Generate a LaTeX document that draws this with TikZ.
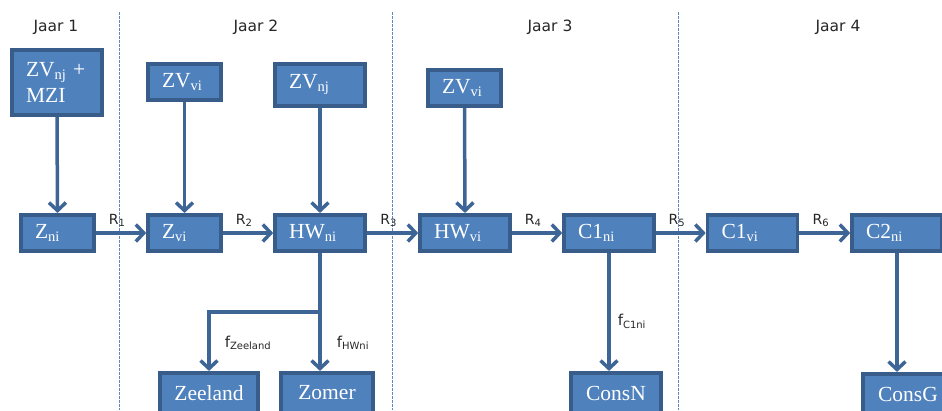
\documentclass[tikz,border=0pt]{standalone}
\usepackage{fontspec}
\setmainfont{Liberation Serif}
\newfontfamily\kopfont{DejaVu Sans}
\usetikzlibrary{arrows.meta}

\definecolor{blokvul}{HTML}{4F81BD}
\definecolor{blokrand}{HTML}{385D8A}
\definecolor{lijn}{HTML}{3D6596}
\definecolor{scheiding}{HTML}{5F88BE}

% subscripts in the boxes and in the labels
\newcommand{\idx}[1]{\raisebox{-3pt}{\fontsize{14.5}{14.5}\selectfont #1}}
\newcommand{\fidx}[1]{\raisebox{-2.5pt}{\fontsize{10}{10}\selectfont #1}}

\begin{document}
\begin{tikzpicture}[x=1pt,y=-1pt]
\tikzstyle{every node}+=[inner sep=0pt]
\tikzstyle{blok}=[draw=blokrand, fill=blokvul, line width=3.6pt, text=white, font=\fontsize{21.5}{26}\selectfont, inner xsep=14pt, minimum height=36.5pt, align=left]
\tikzstyle{pijl}=[draw=lijn, line width=3.5pt, -{Straight Barb[length=8pt,width=17pt]}]
\tikzstyle{kop}=[font=\kopfont\fontsize{15.5}{15.5}\selectfont, text=black!85]
\tikzstyle{rlabel}=[font=\kopfont\fontsize{14}{14}\selectfont, text=black!85, above=4.5pt, xshift=-4pt]
\tikzstyle{flabel}=[font=\kopfont\fontsize{15}{15}\selectfont, text=black!85]
\tikzstyle{grens}=[draw=scheiding, line width=0.9pt, dash pattern=on 2.5pt off 1.5pt]
\useasboundingbox (0,0) rectangle (942,410);
\clip (0,0) rectangle (942,410);

% years
\node[kop] (jaar1) at (56,27) {Jaar 1};
\node[kop] (jaar2) at (256,27) {Jaar 2};
\node[kop] (jaar3) at (550,27) {Jaar 3};
\node[kop] (jaar4) at (838,27) {Jaar 4};
\foreach \x in {119,392,678}
  \draw[grens] (\x,12) -- (\x,410);

% inputs
\node[blok, text width=62pt, minimum height=65.5pt] (zvmzi) at (57,82.5) {ZV\idx{nj} +\\MZI};
\node[blok, text width=45pt] (zvvi2) at (184.5,82) {ZV\idx{vi}};
\node[blok, text width=62pt, minimum height=42.5pt] (zvnj) at (320,85) {ZV\idx{nj}};
\node[blok, text width=45pt] (zvvi3) at (464.5,88) {ZV\idx{vi}};

% main chain
\node[blok, text width=45pt] (zni) at (57.5,233) {Z\idx{ni}};
\node[blok, text width=45pt] (zvi) at (184.5,233) {Z\idx{vi}};
\node[blok, text width=62pt] (hwni) at (320,233) {HW\idx{ni}};
\node[blok, text width=62pt] (hwvi) at (465,233) {HW\idx{vi}};
\node[blok, text width=62pt] (c1ni) at (609,233) {C1\idx{ni}};
\node[blok, text width=62pt] (c1vi) at (752.5,233) {C1\idx{vi}};
\node[blok, text width=62pt] (c2ni) at (897,233) {C2\idx{ni}};

% outputs
\node[blok, text width=70pt, align=center, minimum height=40.5pt] (zeeland) at (209,393) {Zeeland};
\node[blok, text width=64pt, align=center, minimum height=40.5pt] (zomer) at (327,393) {Zomer};
\node[blok, text width=62pt, align=center, minimum height=40.5pt] (consn) at (616,393) {ConsN};
\node[blok, text width=62pt, align=center, minimum height=40.5pt] (consg) at (908,394) {ConsG};

\draw[pijl] (zvmzi.south) -- (zni.north);
\draw[pijl] (zvvi2.south) -- (zvi.north);
\draw[pijl] (zvnj.south) -- (hwni.north);
\draw[pijl] (zvvi3.south) -- (hwvi.north);

\draw[pijl] (zni) -- (zvi) node[rlabel, midway] {R\fidx{1}};
\draw[pijl] (zvi) -- (hwni) node[rlabel, midway] {R\fidx{2}};
\draw[pijl] (hwni) -- (hwvi) node[rlabel, midway] {R\fidx{3}};
\draw[pijl] (hwvi) -- (c1ni) node[rlabel, midway] {R\fidx{4}};
\draw[pijl] (c1ni) -- (c1vi) node[rlabel, midway] {R\fidx{5}};
\draw[pijl] (c1vi) -- (c2ni) node[rlabel, midway] {R\fidx{6}};

\path (hwni.south) ++(0,59) coordinate (splits);
\draw[pijl] (hwni.south) -- (hwni.south |- zomer.north) node[flabel, right=15pt, pos=0.76] {f\fidx{HWni}};
\draw[pijl] (splits) -| (zeeland.north) node[flabel, right=14pt, pos=0.76] {f\fidx{Zeeland}};
\draw[pijl] (c1ni.south) -- (c1ni.south |- consn.north) node[flabel, right=7pt, pos=0.58] {f\fidx{C1ni}};
\draw[pijl] (c2ni.south) -- (c2ni.south |- consg.north);
\end{tikzpicture}
\end{document}
